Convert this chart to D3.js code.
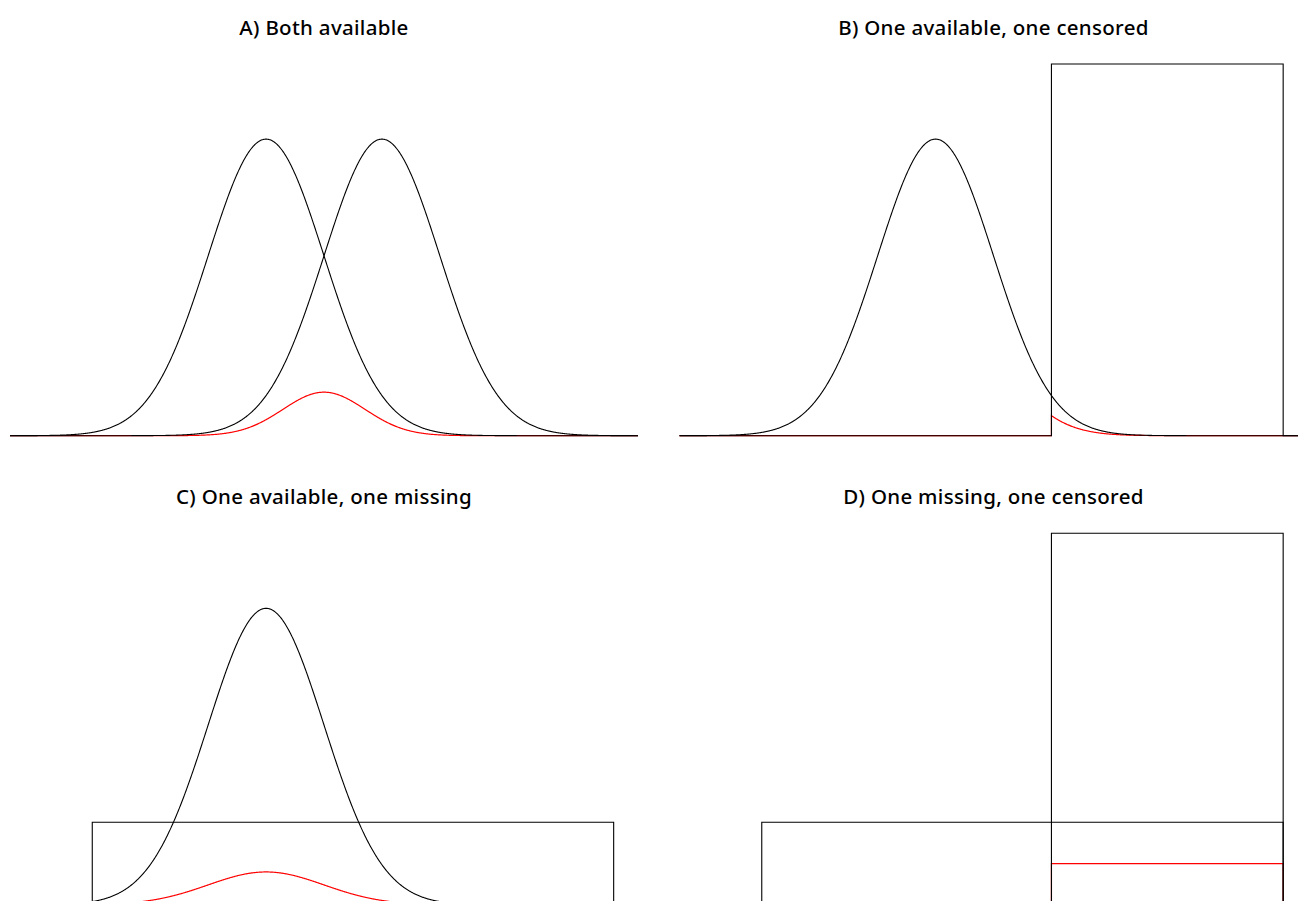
<!DOCTYPE html>
<html>
<head>
<meta charset="utf-8">
<script src="https://cdn.jsdelivr.net/npm/d3@7"></script>
<style>
  body { margin: 0; background: #fff; }
  .title { font-family: "Noto Sans", sans-serif; font-weight: 500; font-size: 20.5px; letter-spacing: 0.3px; fill: #000; }
</style>
</head>
<body>
<div id="chart"></div>
<script>
// panel titles
const titles = ["A) Both available", "B) One available, one censored",
                "C) One available, one missing", "D) One missing, one censored"]

// which distribution each panel combines
const firstDist = ["normalA", "normalA", "normalA", "missing"]
const secondDist = ["normalB", "censored", "missing", "censored"]

// distribution parameters
const normalMeans = {normalA: -1, normalB: 1}
const normalSd = 1
const missingRange = [-4, 5]
const censoredRange = [1, 5]
const censoredHeight = 0.5

const xDomain = [-5.42, 5.42]
const yDomain = [0, 0.5]

const width = 1298, height = 901
const panelW = 628
const colX = [10, 679.5]
const rowBase = [435.7, 904.9]
const rowTitle = [34.5, 503.5]

const svg = d3.select("#chart").append("svg")
    .attr("width", width)
    .attr("height", height)

function dens(kind, x) {
    if (kind in normalMeans) {
        const z = (x - normalMeans[kind]) / normalSd
        return Math.exp(-0.5 * z * z) / (normalSd * Math.sqrt(2 * Math.PI))
    }
    if (kind == "missing") {
        return (x >= missingRange[0] && x <= missingRange[1]) ? 1 / (missingRange[1] - missingRange[0]) : 0
    }
    if (kind == "censored") {
        return (x >= censoredRange[0] && x <= censoredRange[1]) ? censoredHeight : 0
    }
    return 0
}

// x grid with extra points right next to the jumps so the steps come out vertical
const eps = 1e-9
let grid = d3.range(xDomain[0], xDomain[1], 0.01).concat([xDomain[1]])
;[missingRange, censoredRange].forEach(r => {
    grid.push(r[0] - eps, r[0], r[1], r[1] + eps)
})
grid = grid.sort(d3.ascending)

titles.forEach((t, i) => {
    const col = i % 2, row = Math.floor(i / 2)

    const x = d3.scaleLinear()
        .domain(xDomain)
        .range([colX[col], colX[col] + panelW])

    const y = d3.scaleLinear()
        .domain(yDomain)
        .range([rowBase[row], rowBase[row] - 371.7])

    const line = d3.line()
        .x(d => x(d[0]))
        .y(d => y(d[1]))

    const f1 = grid.map(v => [v, dens(firstDist[i], v)])
    const f2 = grid.map(v => [v, dens(secondDist[i], v)])
    const prod = grid.map(v => [v, dens(firstDist[i], v) * dens(secondDist[i], v)])

    const g = svg.append("g")

    // Produkt zuerst, schwarze Kurven darüber
    g.append("path")
        .datum(prod)
        .attr("fill", "none")
        .attr("stroke", "#ff0000")
        .attr("stroke-width", 1.2)
        .attr("d", line)

    ;[f1, f2].forEach(f => {
        g.append("path")
            .datum(f)
            .attr("fill", "none")
            .attr("stroke", "#000")
            .attr("stroke-width", 1.1)
            .attr("d", line)
    })

    g.append("text")
        .attr("class", "title")
        .attr("text-anchor", "middle")
        .attr("x", colX[col] + panelW / 2)
        .attr("y", rowTitle[row])
        .text(t)
})
</script>
</body>
</html>
